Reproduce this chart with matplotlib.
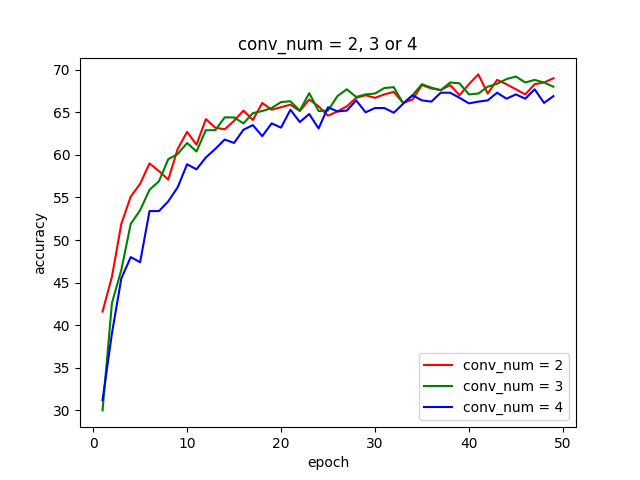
import matplotlib
matplotlib.use('Agg')
import matplotlib.pyplot as plt

epochs = list(range(1, 50))

acc_conv2 = [41.6, 45.7, 51.9, 55.1, 56.6, 59.0, 58.1, 57.1, 60.7, 62.7,
             61.2, 64.2, 63.2, 63.0, 64.0, 65.2, 64.1, 66.1, 65.3, 65.6,
             65.9, 65.15, 66.5, 65.7, 64.6, 65.1, 65.7, 66.7, 67.0, 66.7,
             67.1, 67.4, 66.1, 66.5, 68.2, 67.8, 67.6, 68.2, 67.0, 68.3,
             69.45, 67.2, 68.8, 68.3, 67.7, 67.1, 68.3, 68.5, 69.0]

acc_conv3 = [30.0, 42.6, 46.5, 51.9, 53.5, 55.9, 56.9, 59.5, 60.1, 61.4,
             60.4, 62.9, 62.9, 64.4, 64.4, 63.7, 64.9, 65.15, 65.5, 66.2,
             66.3, 65.2, 67.25, 65.15, 65.2, 66.9, 67.7, 66.8, 67.1, 67.2,
             67.85, 67.95, 66.05, 67.0, 68.3, 67.9, 67.6, 68.5, 68.4, 67.1,
             67.2, 68.0, 68.35, 68.9, 69.2, 68.5, 68.8, 68.5, 68.0]

acc_conv4 = [31.2, 39.05, 45.5, 48.0, 47.4, 53.4, 53.4, 54.55, 56.2, 58.9,
             58.3, 59.7, 60.7, 61.8, 61.4, 62.95, 63.5, 62.2, 63.7, 63.2,
             65.3, 63.85, 64.8, 63.1, 65.6, 65.1, 65.2, 66.4, 65.0, 65.5,
             65.5, 64.95, 66.0, 67.0, 66.4, 66.25, 67.3, 67.3, 66.7, 66.05,
             66.25, 66.4, 67.3, 66.6, 67.1, 66.6, 67.7, 66.1, 66.9]

fig, ax = plt.subplots(figsize=(6.4, 4.8), dpi=100)

ax.plot(epochs, acc_conv2, color='red', label='conv_num = 2')
ax.plot(epochs, acc_conv3, color='green', label='conv_num = 3')
ax.plot(epochs, acc_conv4, color='blue', label='conv_num = 4')

ax.set_title('conv_num = 2, 3 or 4')
ax.set_xlabel('epoch')
ax.set_ylabel('accuracy')
ax.legend(loc='lower right')

fig.savefig('out.png')
